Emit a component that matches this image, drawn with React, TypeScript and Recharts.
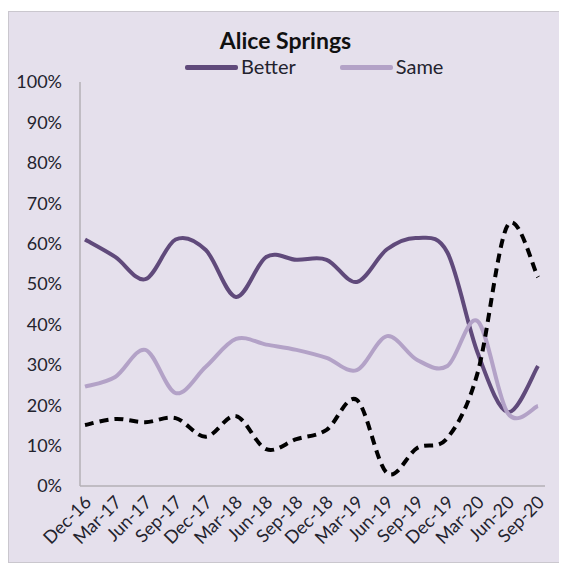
import { LineChart, Line, XAxis, YAxis } from 'recharts';

const quarters = [
  'Dec-16', 'Mar-17', 'Jun-17', 'Sep-17', 'Dec-17', 'Mar-18', 'Jun-18', 'Sep-18',
  'Dec-18', 'Mar-19', 'Jun-19', 'Sep-19', 'Dec-19', 'Mar-20', 'Jun-20', 'Sep-20',
];
const better = [61, 56.7, 51.2, 61, 58.4, 46.8, 56.7, 56, 56, 50.5, 58.6, 61.4, 57.8, 33, 18.3, 29.7];
const same = [24.6, 27, 33.7, 23, 29.5, 36.4, 35, 33.7, 31.7, 28.7, 37.1, 31.2, 29.7, 40.8, 18, 19.8];
const worse = [15.1, 16.6, 15.8, 16.8, 12.2, 17.3, 9.1, 11.6, 13.9, 21.3, 3.2, 9.4, 11.9, 28, 64.6, 51.7];
const yTicks = [0, 10, 20, 30, 40, 50, 60, 70, 80, 90, 100];

const data = quarters.map((q, i) => ({
  quarter: q,
  Better: better[i],
  Same: same[i],
  Worse: worse[i],
}));

const FONT = 'Lato, "Open Sans", sans-serif';
const TEXT = '#23232e';
const BETTER_COLOR = '#604a7b';
const SAME_COLOR = '#b3a2c7';

// only these two show in the legend (the dashed one has no entry)
const legendItems = [
  { name: 'Better', color: BETTER_COLOR },
  { name: 'Same', color: SAME_COLOR },
];

// Excel style smoothing (catmull-rom, control points at 1/6 of neighbour span)
const excelCurve = (context: any) => {
  let pts: number[][] = [];
  return {
    areaStart() {},
    areaEnd() {},
    lineStart() {
      pts = [];
    },
    point(x: number, y: number) {
      pts.push([+x, +y]);
    },
    lineEnd() {
      if (!pts.length) return;
      context.moveTo(pts[0][0], pts[0][1]);
      for (let i = 0; i < pts.length - 1; i++) {
        const p0 = pts[i - 1] || pts[i];
        const p1 = pts[i];
        const p2 = pts[i + 1];
        const p3 = pts[i + 2] || p2;
        context.bezierCurveTo(
          p1[0] + (p2[0] - p0[0]) / 6,
          p1[1] + (p2[1] - p0[1]) / 6,
          p2[0] - (p3[0] - p1[0]) / 6,
          p2[1] - (p3[1] - p1[1]) / 6,
          p2[0],
          p2[1]
        );
      }
    },
  };
};

const XTick = ({ x, y, payload }: any) => (
  <g transform={`translate(${x + 3},${y + 11})`}>
    <text
      x={0}
      y={0}
      dy="0.35em"
      textAnchor="end"
      transform="rotate(-45)"
      fill={TEXT}
      fontSize={18}
      fontFamily={FONT}
    >
      {payload.value}
    </text>
  </g>
);

export default function App() {
  return (
    <div
      style={{
        position: 'relative',
        marginTop: 3,
        width: 553,
        height: 552,
        border: '1px solid #cac7ce',
        background: '#e5e0ec',
        boxSizing: 'border-box',
      }}
    >
      <div
        style={{
          position: 'absolute',
          top: 14,
          left: 0,
          width: 553,
          textAlign: 'center',
          fontFamily: FONT,
          fontWeight: 700,
          fontSize: 23,
          color: '#111',
        }}
      >
        Alice Springs
      </div>
      <div
        style={{
          position: 'absolute',
          top: 42,
          left: 176,
          display: 'flex',
          alignItems: 'center',
          fontFamily: FONT,
          fontSize: 20,
          color: TEXT,
        }}
      >
        {legendItems.map((item) => (
          <div key={item.name} style={{ display: 'flex', alignItems: 'center', marginRight: 44 }}>
            <span
              style={{
                display: 'inline-block',
                position: 'relative',
                top: 1,
                width: 53,
                height: 5,
                borderRadius: 2,
                background: item.color,
                marginRight: 3,
              }}
            />
            <span>{item.name}</span>
          </div>
        ))}
      </div>
      <LineChart
        width={551}
        height={550}
        data={data}
        margin={{ top: 70, right: 15, left: 11, bottom: 16 }}
      >
        <XAxis
          dataKey="quarter"
          interval={0}
          height={60}
          tickSize={0}
          padding={{ left: 5, right: 7 }}
          axisLine={{ stroke: '#b3b1b6', strokeWidth: 1.5 }}
          tick={<XTick />}
        />
        <YAxis
          domain={[0, 100]}
          ticks={yTicks}
          width={60}
          tickSize={0}
          tickMargin={18}
          tickFormatter={(v: number) => `${v}%`}
          axisLine={{ stroke: '#b3b1b6', strokeWidth: 1.5 }}
          tick={{ fill: TEXT, fontSize: 18, fontFamily: FONT }}
        />
        <Line
          dataKey="Better"
          type={excelCurve as any}
          stroke={BETTER_COLOR}
          strokeWidth={4}
          dot={false}
          isAnimationActive={false}
        />
        <Line
          dataKey="Same"
          type={excelCurve as any}
          stroke={SAME_COLOR}
          strokeWidth={4}
          dot={false}
          isAnimationActive={false}
        />
        <Line
          dataKey="Worse"
          type={excelCurve as any}
          stroke="#000000"
          strokeWidth={4}
          strokeDasharray="9 6"
          dot={false}
          isAnimationActive={false}
        />
      </LineChart>
    </div>
  );
}
